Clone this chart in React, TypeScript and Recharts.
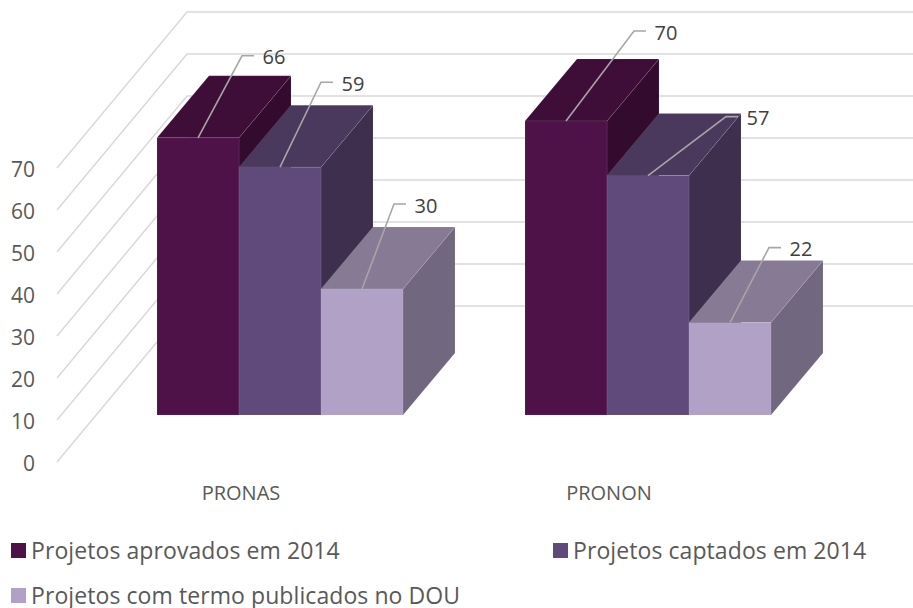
import React from 'react';
import { BarChart, Bar, XAxis, YAxis, CartesianGrid, LabelList, Legend } from 'recharts';

const categories = ['PRONAS', 'PRONON'];
const aprovados = [66, 70];
const captados = [59, 57];
const publicados = [30, 22];
const yTicks = [0, 10, 20, 30, 40, 50, 60, 70];

const data = categories.map((name, i) => ({
  name,
  aprovados: aprovados[i],
  captados: captados[i],
  publicados: publicados[i],
}));

const FONT = '"Open Sans", sans-serif';

// 3D projection: bars sit this far into the floor, and are this deep
const FLOOR_DY = -47;
const DEPTH_DX = 52;
const DEPTH_DY = -62;
const WALL_LEFT = 57;
const WALL_DX = 130;
const WALL_DY = -156;

// elbow of each leader line, relative to the top centre of the bar front
const leadersAprovados = [[44, -82], [68, -90]];
const leadersCaptados = [[41, -85], [78, -59]];
const leadersPublicados = [[32, -85], [39, -75]];

function Bar3D(props: any) {
  const { x, y, width, height, colors } = props;
  const top = y + FLOOR_DY;
  const left = x;
  const right = left + width;
  const bottom = top + height;
  const edge = { stroke: '#ffffff', strokeOpacity: 0.08, strokeWidth: 1 };
  return (
    <g>
      <polygon
        points={`${right},${top} ${right + DEPTH_DX},${top + DEPTH_DY} ${right + DEPTH_DX},${bottom + DEPTH_DY} ${right},${bottom}`}
        fill={colors[2]}
        {...edge}
      />
      <polygon
        points={`${left},${top} ${left + DEPTH_DX},${top + DEPTH_DY} ${right + DEPTH_DX},${top + DEPTH_DY} ${right},${top}`}
        fill={colors[1]}
        {...edge}
      />
      <rect x={left} y={top} width={width} height={height} fill={colors[0]} {...edge} />
    </g>
  );
}

function leaderLabel(leaders: number[][]) {
  return (props: any) => {
    const { x, y, width, value, index } = props;
    const sx = x + width / 2;
    const sy = y + FLOOR_DY;
    const ex = sx + leaders[index][0];
    const ey = sy + leaders[index][1];
    return (
      <g>
        <polyline
          points={`${sx},${sy} ${ex},${ey} ${ex + 12},${ey}`}
          fill="none"
          stroke="#a6a6a6"
          strokeWidth={1.6}
        />
        <text
          x={ex + 32}
          y={ey + 1}
          textAnchor="middle"
          dominantBaseline="central"
          fontFamily={FONT}
          fontSize={20}
          fill="#404040"
        >
          {value}
        </text>
      </g>
    );
  };
}

function WallLine(props: any) {
  const y = props.y1;
  return (
    <polyline
      key={props.key}
      points={`${WALL_LEFT},${y} ${WALL_LEFT + WALL_DX},${y + WALL_DY} 913,${y + WALL_DY}`}
      fill="none"
      stroke="#d9d9d9"
      strokeWidth={1.5}
    />
  );
}

function YTick(props: any) {
  return (
    <text
      x={35}
      y={props.y + 1}
      textAnchor="end"
      dominantBaseline="central"
      fontFamily={FONT}
      fontSize={21}
      fill="#595959"
    >
      {props.payload.value}
    </text>
  );
}

function XTick(props: any) {
  return (
    <text
      x={props.x - 39}
      y={492}
      textAnchor="middle"
      dominantBaseline="central"
      fontFamily={FONT}
      fontSize={20}
      fill="#595959"
    >
      {props.payload.value}
    </text>
  );
}

function LegendRows(props: any) {
  return (
    <div
      style={{
        paddingTop: 20,
        paddingLeft: 11,
        fontFamily: FONT,
        fontSize: 23,
        lineHeight: '23px',
        letterSpacing: 0.08,
        color: '#595959',
      }}
    >
      {(props.payload || []).map((item: any, i: number) => (
        <div
          key={item.value}
          style={{
            display: 'inline-flex',
            alignItems: 'center',
            width: i % 2 === 0 ? 542 : 360,
            height: 45,
            verticalAlign: 'top',
          }}
        >
          <span style={{ width: 15, height: 15, background: item.color, marginRight: 5 }} />
          <span style={{ whiteSpace: 'nowrap' }}>{item.value}</span>
        </div>
      ))}
    </div>
  );
}

export default function App() {
  return (
    <div style={{ position: 'absolute', left: 0, top: 0 }}>
      <BarChart
        width={913}
        height={608}
        data={data}
        margin={{ top: 168, right: 81, bottom: 0, left: 0 }}
        barSize={82}
        barGap={0}
        barCategoryGap={0}
      >
        <CartesianGrid vertical={false} horizontal={WallLine} />
        <XAxis dataKey="name" axisLine={false} tickLine={false} tick={XTick} height={46} />
        <YAxis
          width={96}
          domain={[0, 70]}
          ticks={yTicks}
          interval={0}
          axisLine={false}
          tickLine={false}
          tick={YTick}
        />
        <Bar
          dataKey="aprovados"
          name="Projetos aprovados em 2014"
          fill="#4e1248"
          isAnimationActive={false}
          shape={(p: any) => <Bar3D {...p} colors={['#4e1248', '#3e0e39', '#330b2f']} />}
        >
          <LabelList dataKey="aprovados" content={leaderLabel(leadersAprovados)} />
        </Bar>
        <Bar
          dataKey="captados"
          name="Projetos captados em 2014"
          fill="#604a7b"
          isAnimationActive={false}
          shape={(p: any) => <Bar3D {...p} colors={['#604a7b', '#4a385d', '#3e2f4f']} />}
        >
          <LabelList dataKey="captados" content={leaderLabel(leadersCaptados)} />
        </Bar>
        <Bar
          dataKey="publicados"
          name="Projetos com termo publicados no DOU"
          fill="#b2a1c7"
          isAnimationActive={false}
          shape={(p: any) => <Bar3D {...p} colors={['#b2a1c7', '#867a94', '#716880']} />}
        >
          <LabelList dataKey="publicados" content={leaderLabel(leadersPublicados)} />
        </Bar>
        <Legend
          content={LegendRows}
          height={100}
          wrapperStyle={{ left: 0, width: 913, top: 508 }}
        />
      </BarChart>
    </div>
  );
}
